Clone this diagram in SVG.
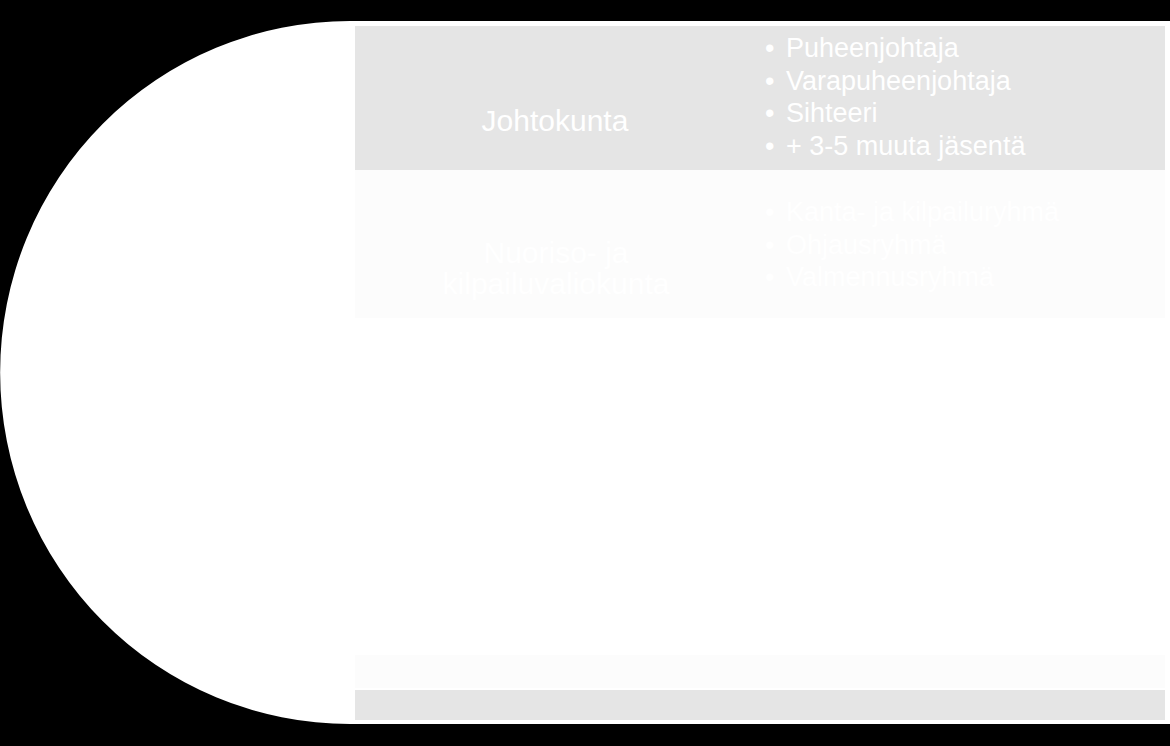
<svg xmlns="http://www.w3.org/2000/svg" width="1170" height="746" viewBox="0 0 1170 746">
<style>
.lbl{font-family:"Liberation Sans",Arial,sans-serif;font-size:30px;fill:#ffffff;text-anchor:middle}
.item{font-family:"Liberation Sans",Arial,sans-serif;font-size:27px;fill:#ffffff}
.gray{fill:#e5e5e5}
.faint{fill:#fcfcfc}
</style>
<rect x="0" y="0" width="1170" height="746" fill="#000000"/>
<g id="background-shape">
<path d="M350,21 L1170,21 L1170,724 L350,724 A350,351.5 0 0 1 350,21 Z" fill="#ffffff"/>
</g>
<g id="connectors"></g>
<g id="row-johtokunta">
<rect class="gray" x="355" y="26" width="810" height="144"/>
<text class="lbl" x="555" y="131">Johtokunta</text>
<text class="item" x="765" y="57">•</text><text class="item" x="786" y="57">Puheenjohtaja</text>
<text class="item" x="765" y="90">•</text><text class="item" x="786" y="90">Varapuheenjohtaja</text>
<text class="item" x="765" y="122">•</text><text class="item" x="786" y="122">Sihteeri</text>
<text class="item" x="765" y="155">•</text><text class="item" x="786" y="155">+ 3-5 muuta jäsentä</text>
</g>
<g id="row-nuoriso">
<rect class="faint" x="355" y="170" width="810" height="148"/>
<text class="lbl" x="556" y="263">Nuoriso- ja</text>
<text class="lbl" x="556" y="294">kilpailuvaliokunta</text>
<text class="item" x="765" y="221">•</text><text class="item" x="786" y="221">Kanta- ja kilpailuryhmä</text>
<text class="item" x="765" y="254">•</text><text class="item" x="786" y="254">Ohjausryhmä</text>
<text class="item" x="765" y="286">•</text><text class="item" x="786" y="286">Valmennusryhmä</text>
</g>
<g id="row-faint-bottom">
<rect class="faint" x="355" y="655" width="810" height="33"/>
</g>
<g id="row-gray-bottom">
<rect class="gray" x="355" y="690" width="810" height="30"/>
</g>
</svg>
